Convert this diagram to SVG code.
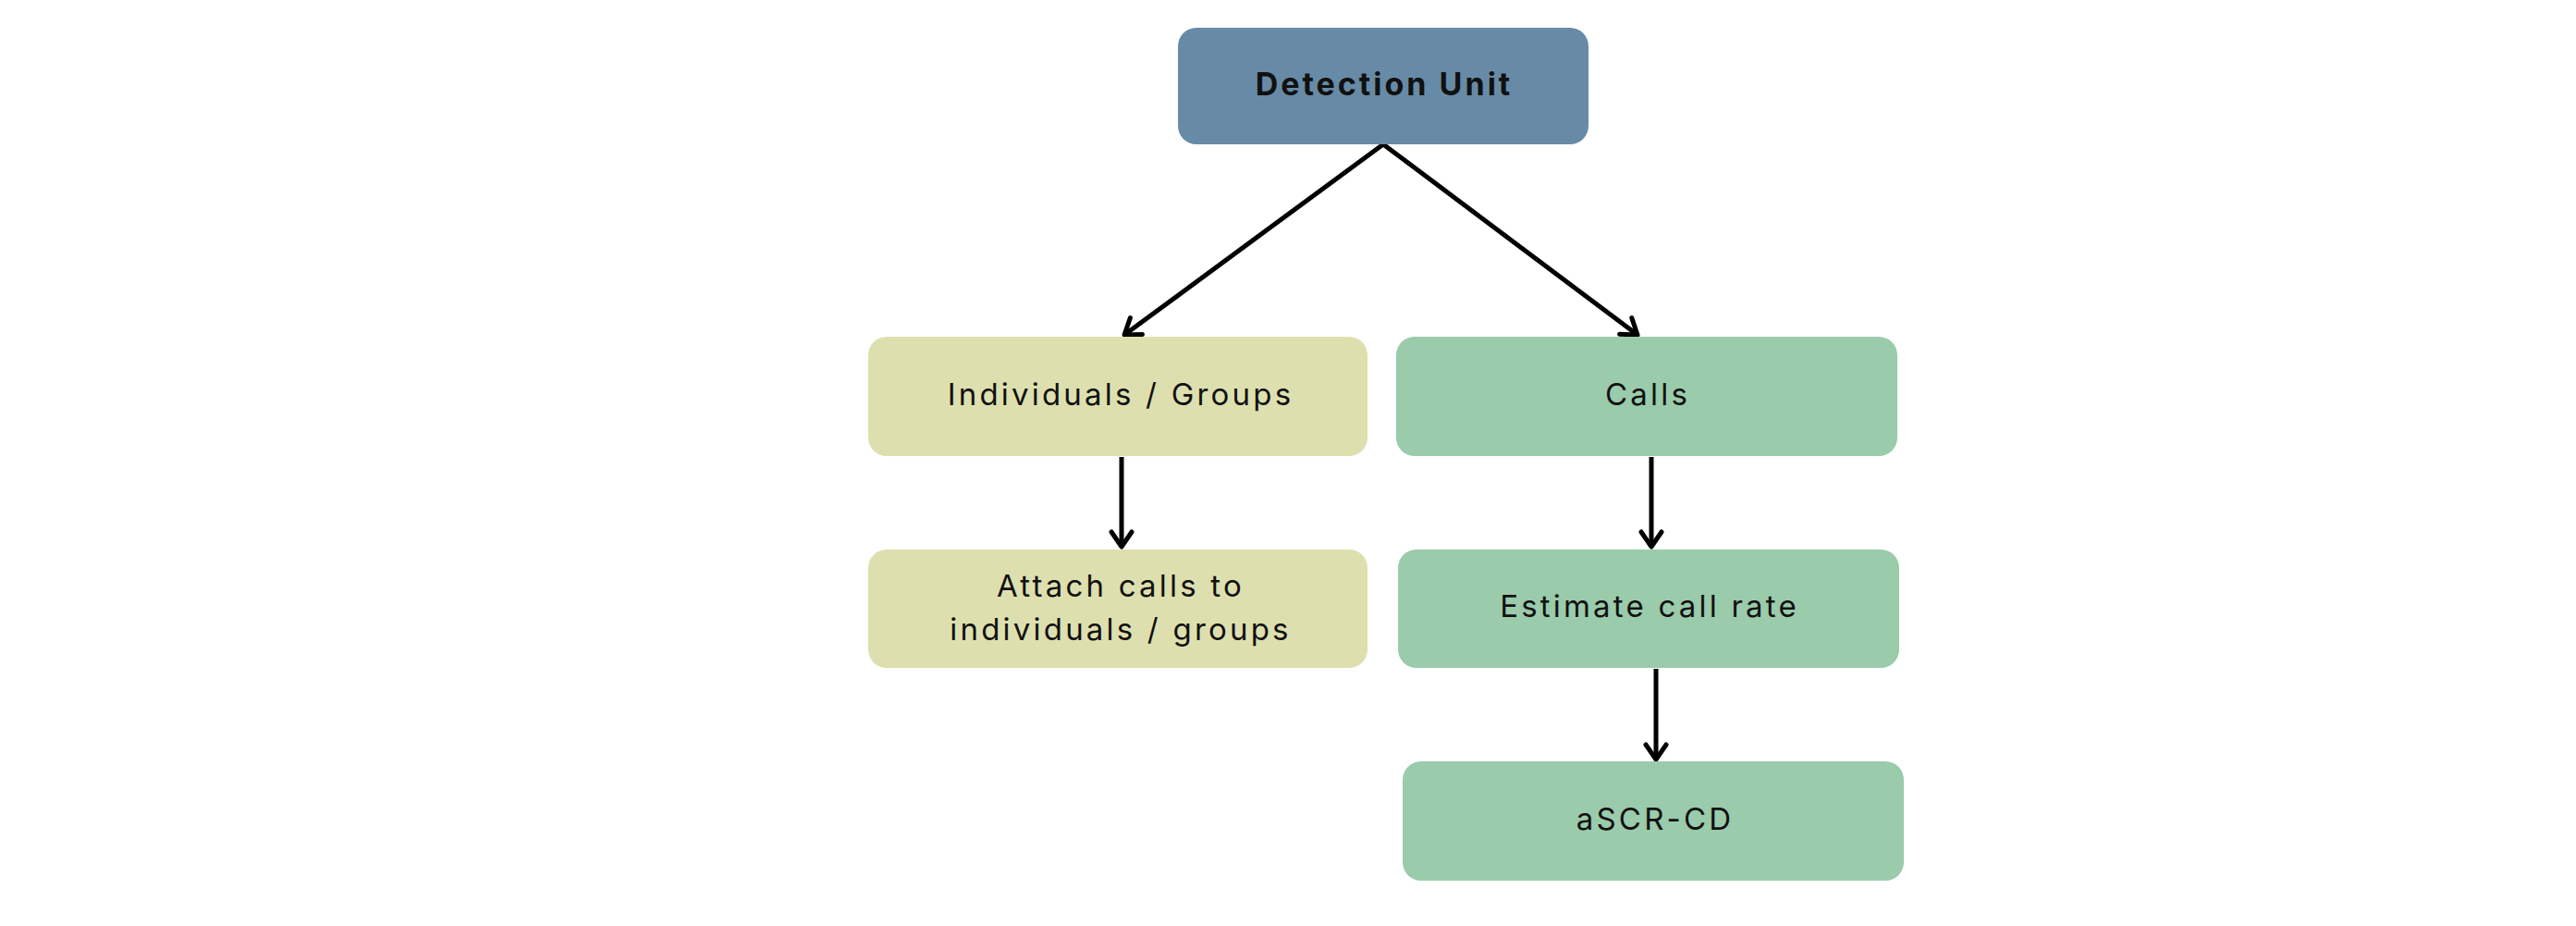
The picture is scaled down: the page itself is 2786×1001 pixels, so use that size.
<svg xmlns="http://www.w3.org/2000/svg" width="2786" height="1001" viewBox="0 0 2786 1001">
<style>
  .lbl { font-family: Inter, "Liberation Sans", sans-serif; font-size: 33px; fill: #111; text-anchor: middle; letter-spacing: 3.2px; }
  .bold { font-weight: 700; font-size: 34px; letter-spacing: 3px; }
  .blue { fill: #678ba6; }
  .yel { fill: #dde0ae; }
  .grn { fill: #9acbab; }
  .conn { stroke: #000; stroke-width: 5; fill: none; }
</style>
<defs>
  <marker id="arr" markerUnits="userSpaceOnUse" viewBox="-20 -14 24 28" refX="0" refY="0" markerWidth="24" markerHeight="28" orient="auto">
    <path d="M-16,-11 L0,0 L-16,11" fill="none" stroke="#000" stroke-width="5" stroke-linecap="round" stroke-linejoin="round"/>
  </marker>
</defs>
<rect width="2786" height="1001" fill="#fff"/>
<g id="connectors">
  <line class="conn" x1="1496" y1="156" x2="1216" y2="362" marker-end="url(#arr)"/>
  <line class="conn" x1="1496" y1="156" x2="1771" y2="362" marker-end="url(#arr)"/>
  <line class="conn" x1="1213" y1="494" x2="1213" y2="591" marker-end="url(#arr)"/>
  <line class="conn" x1="1786" y1="494" x2="1786" y2="591" marker-end="url(#arr)"/>
  <line class="conn" x1="1791" y1="723" x2="1791" y2="821" marker-end="url(#arr)"/>
</g>
<g id="detection-unit">
  <rect class="blue" x="1274" y="30" width="444" height="126" rx="20"/>
  <text class="lbl bold" x="1497" y="103">Detection Unit</text>
</g>
<g id="individuals-groups">
  <rect class="yel" x="939" y="364" width="540" height="129" rx="20"/>
  <text class="lbl" x="1212" y="438">Individuals / Groups</text>
</g>
<g id="calls">
  <rect class="grn" x="1510" y="364" width="542" height="129" rx="20"/>
  <text class="lbl" x="1782" y="438">Calls</text>
</g>
<g id="attach-calls">
  <rect class="yel" x="939" y="594" width="540" height="128" rx="20"/>
  <text class="lbl" x="1212" y="645">Attach calls to</text>
  <text class="lbl" x="1212" y="692">individuals / groups</text>
</g>
<g id="estimate-call-rate">
  <rect class="grn" x="1512" y="594" width="542" height="128" rx="20"/>
  <text class="lbl" x="1784" y="667">Estimate call rate</text>
</g>
<g id="ascr-cd">
  <rect class="grn" x="1517" y="823" width="542" height="129" rx="20"/>
  <text class="lbl" x="1790" y="897">aSCR-CD</text>
</g>
</svg>
